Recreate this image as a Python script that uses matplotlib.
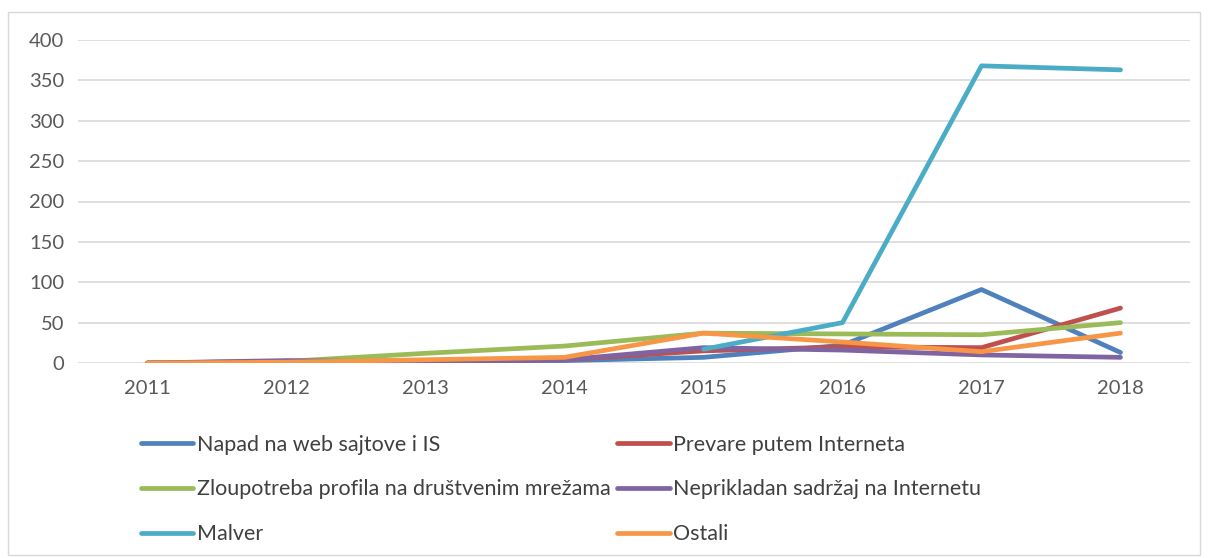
import numpy as np
import matplotlib.pyplot as plt
from matplotlib.patches import Rectangle

years = ['2011', '2012', '2013', '2014', '2015', '2016', '2017', '2018']

napad = [0, 2, 3, 3, 7, 22, 91, 13]
prevare = [0, 1, 2, 4, 15, 20, 19, 68]
zloupotreba = [0, 2, 12, 21, 37, 36, 35, 50]
neprikladan = [0, 3, 1, 4, 19, 16, 10, 7]
malver = [np.nan, np.nan, np.nan, np.nan, 17, 50, 368, 363]
ostali = [0, 1, 4, 7, 37, 26, 14, 37]

labels = ['Napad na web sajtove i IS', 'Prevare putem Interneta',
          'Zloupotreba profila na društvenim mrežama', 'Neprikladan sadržaj na Internetu',
          'Malver', 'Ostali']
colors = ['#4F81BD', '#C0504D', '#9BBB59', '#8064A2', '#4BACC6', '#F79646']
series = [napad, prevare, zloupotreba, neprikladan, malver, ostali]

plt.rcParams['font.family'] = ['Lato', 'DejaVu Sans']

fig = plt.figure(figsize=(12.09, 5.58), dpi=100)
ax = fig.add_axes([78 / 1209, 1 - 363 / 558, (1190 - 78) / 1209, (363 - 40) / 558])

x = np.arange(len(years))
lines = []
for vals, lab, col in zip(series, labels, colors):
    ln, = ax.plot(x, vals, color=col, lw=3.4, label=lab,
                  solid_capstyle='round', solid_joinstyle='round')
    lines.append(ln)

ax.set_xlim(-0.5, 7.5)
ax.set_ylim(0, 400)
ax.set_yticks(range(0, 401, 50))
ax.set_xticks(x)
ax.set_xticklabels(years)
ax.yaxis.grid(True, color='#D9D9D9', lw=1.2)
ax.set_axisbelow(True)
for s in ax.spines.values():
    s.set_visible(False)
ax.tick_params(length=0, labelsize=14.5, colors='#595959', pad=10)
ax.tick_params(axis='x', pad=12)

# legend in reading order: row by row
order = [0, 2, 4, 1, 3, 5]
fig.legend([lines[i] for i in order], [labels[i] for i in order], ncol=2,
           loc='upper left', bbox_to_anchor=(132 / 1209, 1 - 426 / 558),
           frameon=False, fontsize=15.5, labelcolor='#404040',
           handlelength=2.45, handletextpad=0.15, columnspacing=0.3,
           labelspacing=1.15, borderaxespad=0)

fig.patches.append(Rectangle((8 / 1209, 3 / 558), 1192 / 1209, 543 / 558,
                             transform=fig.transFigure, fill=False,
                             edgecolor='#D9D9D9', lw=1))

fig.savefig('out.png', dpi=100)
